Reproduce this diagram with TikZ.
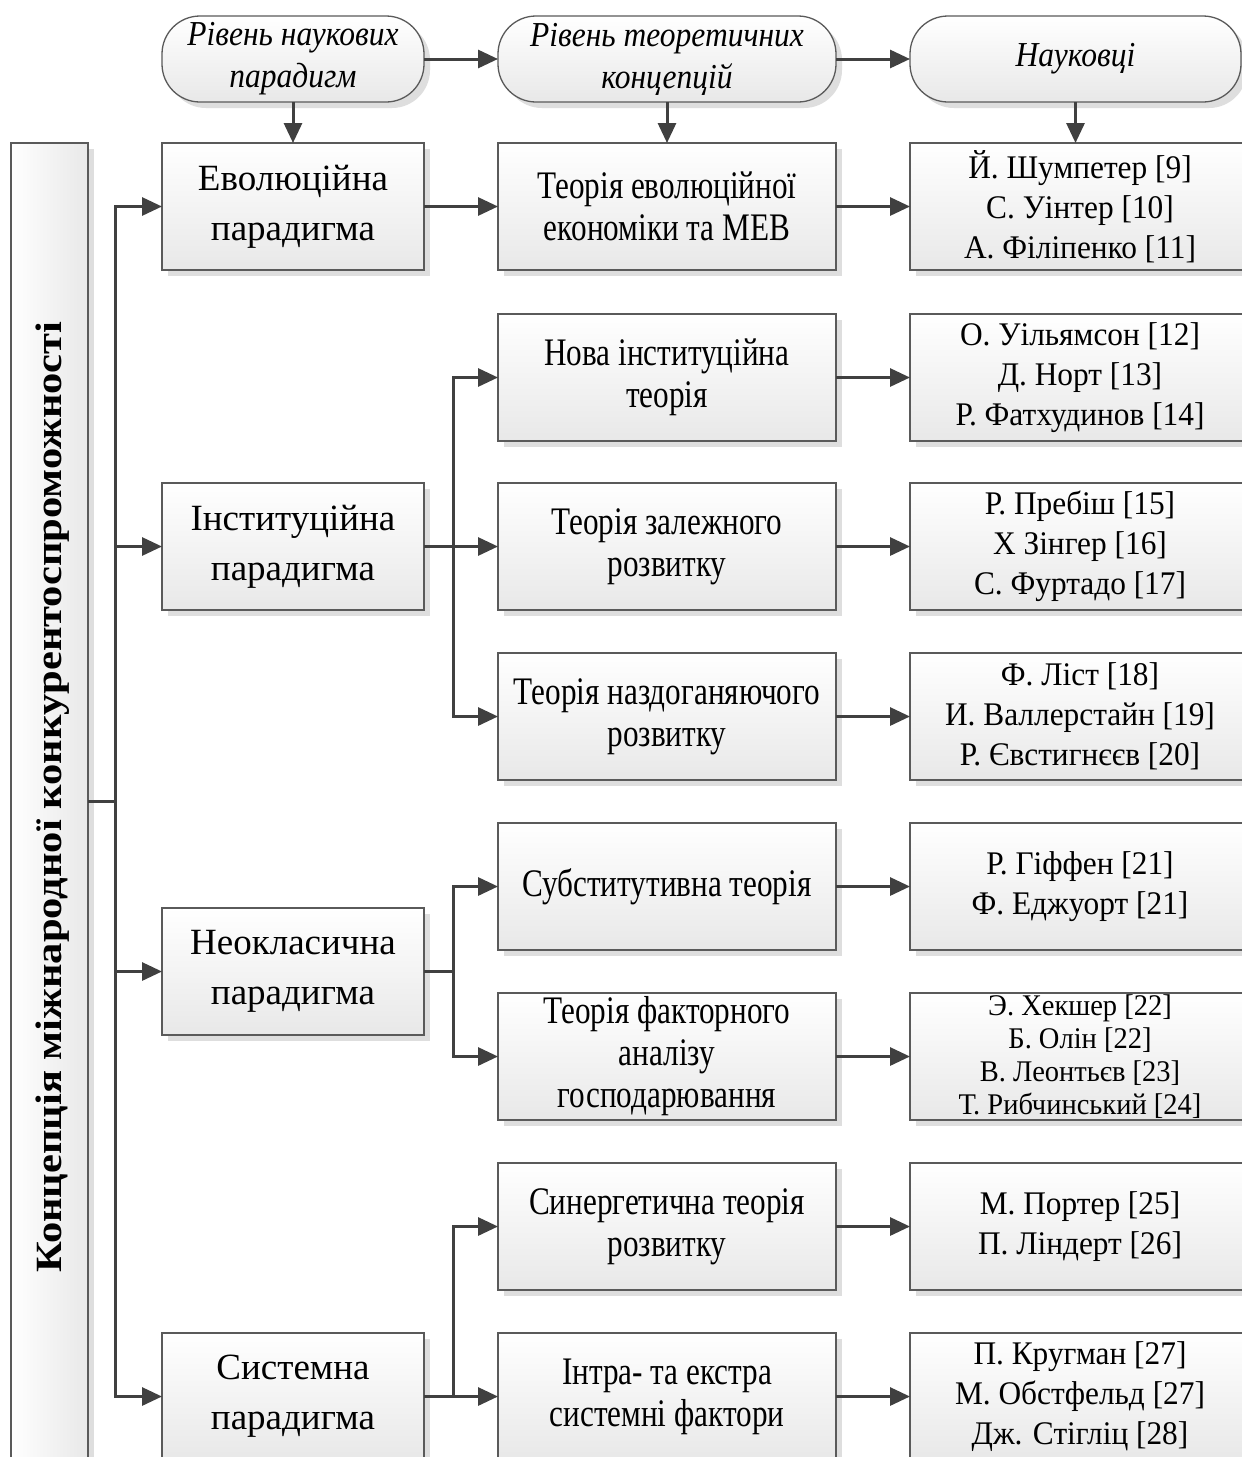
\documentclass[tikz,border=0pt]{standalone}
\usepackage{fontspec}
\setmainfont{Liberation Serif}
\newfontfamily\fcond[FakeStretch=0.8]{Liberation Serif}
\newfontfamily\fhdr[FakeStretch=0.9]{Liberation Serif}
\newfontfamily\fsci[FakeStretch=0.95]{Liberation Serif}
\newfontfamily\ftitle[FakeStretch=1.15]{Liberation Serif}
\usetikzlibrary{arrows.meta,shadows}
\definecolor{lnc}{HTML}{404040}
\definecolor{brd}{HTML}{5A5A5A}
\tikzset{
  boxbase/.style={draw=brd, line width=1.3pt, top color=white, bottom color=black!9,
    drop shadow={shadow xshift=6pt, shadow yshift=-6pt, fill=black!13, opacity=1},
    align=center, inner sep=0pt, outer sep=0pt},
  pbox/.style={boxbase, minimum width=262pt, minimum height=127pt, font=\fontsize{37}{50}\selectfont},
  tbox/.style={boxbase, minimum width=338pt, minimum height=127pt, font=\fcond\fontsize{39}{42}\selectfont},
  sbox/.style={boxbase, minimum width=340pt, minimum height=127pt, font=\fsci\fontsize{33}{40}\selectfont},
  hbox/.style={boxbase, rounded corners=38pt, minimum height=86pt, font=\fhdr\fontsize{35}{42}\selectfont\itshape},
  conn/.style={draw=lnc, line width=3pt},
  arr/.style={conn, -{Triangle[length=20pt,width=18pt]}}
}
\begin{document}
\begin{tikzpicture}[x=1pt,y=-1pt]
\useasboundingbox (0,0) rectangle (1242,1457);
\clip (0,0) rectangle (1242,1457);
\fill[white] (0,0) rectangle (1242,1457);

% header
\node[hbox, minimum width=262pt] (h1) at (293,59) {Рівень наукових\\парадигм};
\node[hbox, minimum width=338pt] (h2) at (667,59) {Рівень теоретичних\\концепцій};
\node[hbox, minimum width=331pt] (h3) at (1075.5,59) {Науковці};

% left concept box
\node[draw=brd, line width=1.3pt, left color=white, right color=black!9,
  drop shadow={shadow xshift=6pt, shadow yshift=-6pt, fill=black!13, opacity=1},
  minimum width=77pt, minimum height=1330pt, inner sep=0pt, outer sep=0pt] (L) at (49.5,808) {};
\node[rotate=90, font=\ftitle\fontsize{37}{40}\selectfont\bfseries] (Lt) at (53,797)
  {Концепція міжнародної конкурентоспроможності};

% paradigms
\node[pbox] (p1) at (293,206.5) {Еволюційна\\парадигма};
\node[pbox] (p2) at (293,546.5) {Інституційна\\парадигма};
\node[pbox] (p3) at (293,971.5) {Неокласична\\парадигма};
\node[pbox] (p4) at (293,1396.5) {Системна\\парадигма};

% theories
\node[tbox] (t1) at (667,206.5) {Теорія еволюційної\\економіки та МЕВ};
\node[tbox] (t2) at (667,377.5) {Нова інституційна\\теорія};
\node[tbox] (t3) at (667,546.5) {Теорія залежного\\розвитку};
\node[tbox] (t4) at (667,716.5) {Теорія наздоганяючого\\розвитку};
\node[tbox] (t5) at (667,886.5) {Субститутивна теорія};
\node[tbox] (t6) at (667,1056.5) {Теорія факторного\\аналізу\\господарювання};
\node[tbox] (t7) at (667,1226.5) {Синергетична теорія\\розвитку};
\node[tbox] (t8) at (667,1396.5) {Інтра- та екстра\\системні фактори};

% scientists
\node[sbox] (s1) at (1080,206.5) {Й. Шумпетер [9]\\С. Уінтер [10]\\А. Філіпенко [11]};
\node[sbox] (s2) at (1080,377.5) {О. Уільямсон [12]\\Д. Норт [13]\\Р. Фатхудинов [14]};
\node[sbox] (s3) at (1080,546.5) {Р. Пребіш [15]\\Х Зінгер [16]\\С. Фуртадо [17]};
\node[sbox] (s4) at (1080,716.5) {Ф. Ліст [18]\\И. Валлерстайн [19]\\Р. Євстигнєєв [20]};
\node[sbox] (s5) at (1080,886.5) {Р. Гіффен [21]\\Ф. Еджуорт [21]};
\node[sbox, font=\fsci\fontsize{30}{33}\selectfont] (s6) at (1080,1056.5) {Э. Хекшер [22]\\Б. Олін [22]\\В. Леонтьєв [23]\\Т. Рибчинський [24]};
\node[sbox] (s7) at (1080,1226.5) {М. Портер [25]\\П. Ліндерт [26]};
\node[sbox] (s8) at (1080,1396.5) {П. Кругман [27]\\М. Обстфельд [27]\\Дж. Стігліц [28]};

% header connectors
\draw[arr] (h1.east) -- (h2.west);
\draw[arr] (h2.east) -- (h3.west);
\draw[arr] (h1.south) -- (p1.north);
\draw[arr] (h2.south) -- (t1.north);
\draw[arr] (h3.south) -- (h3.south |- s1.north);

% trunk
\coordinate (tr) at (115,801);
\draw[conn] (L.east |- tr) -- (tr);
\draw[arr] (tr) |- (p1.west);
\draw[arr] (tr) |- (p2.west);
\draw[arr] (tr) |- (p3.west);
\draw[arr] (tr) |- (p4.west);

% paradigms to theories
\draw[arr] (p1.east) -- (t1.west);
\coordinate (j2) at (453,546.5);
\draw[conn] (p2.east) -- (j2);
\draw[arr] (j2) |- (t2.west);
\draw[arr] (j2) |- (t3.west);
\draw[arr] (j2) |- (t4.west);
\coordinate (j3) at (453,971.5);
\draw[conn] (p3.east) -- (j3);
\draw[arr] (j3) |- (t5.west);
\draw[arr] (j3) |- (t6.west);
\coordinate (j4) at (453,1396.5);
\draw[conn] (p4.east) -- (j4);
\draw[arr] (j4) |- (t7.west);
\draw[arr] (j4) |- (t8.west);

% theories to scientists
\foreach \i in {1,...,8} { \draw[arr] (t\i.east) -- (s\i.west); }
\end{tikzpicture}
\end{document}
